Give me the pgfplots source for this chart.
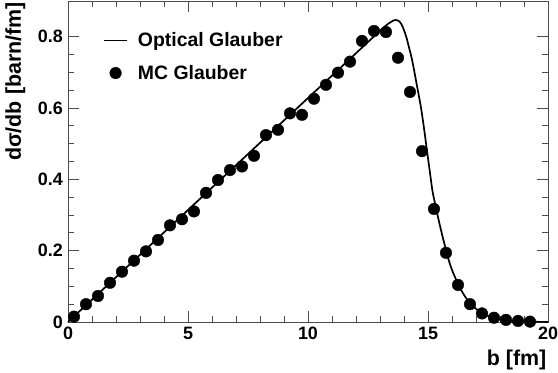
\documentclass[border=0pt]{standalone}
\usepackage{pgfplots}
\pgfplotsset{compat=1.18}
\usepackage{fontspec}
\setmainfont{Liberation Sans}
\pgfplotsset{
  lineleg/.style={legend image code/.code={\draw[##1] (0bp,0bp) -- (23bp,0bp); \path (0bp,0bp) (31bp,0bp);}},
  markleg/.style={legend image code/.code={\draw[##1] plot coordinates {(11.5bp,0bp)}; \path (0bp,0bp) (31bp,0bp);}},
}
\begin{document}
\begin{tikzpicture}
\path[use as bounding box] (-68bp,-51bp) rectangle (490bp,322bp);
\begin{axis}[
  at={(0,0)}, anchor=south west,
  scale only axis, width=480bp, height=321bp,
  xmin=0, xmax=20, ymin=0, ymax=0.9,
  clip=false,
  axis line style={black!70, line width=0.9bp},
  every tick/.style={black!70, line width=0.9bp},
  tick align=inside,
  xtick={0,5,10,15,20}, ytick={0,0.2,0.4,0.6,0.8},
  yticklabels={0,0.2,0.4,0.6,0.8},
  minor x tick num=4, minor y tick num=3,
  major tick length=11bp, minor tick length=6bp,
  /pgf/number format/assume math mode=true,
  tick label style={font=\fontsize{18}{20}\selectfont\bfseries},
  yticklabel style={inner sep=0pt, xshift=-5bp},
  xticklabel style={inner sep=0pt, yshift=-5bp},
  xlabel={b [fm]},
  ylabel={dσ/db [barn/fm]},
  label style={font=\fontsize{21.5}{24}\selectfont\bfseries},
  xlabel style={at={(axis description cs:0.997,-0.134)}, anchor=base east, inner sep=0pt},
  ylabel style={at={(axis description cs:-0.131,0.997)}, anchor=north east, inner sep=0pt},
  legend style={draw=none, fill=none, at={(axis description cs:0.073,0.908)}, anchor=north west,
    font=\fontsize{19.5}{22}\selectfont\bfseries, row sep=13bp, inner sep=0pt,
    column sep=0pt},
  legend cell align=left,
]
\addplot[black, line width=1.7bp, smooth, lineleg]
coordinates {
(0,0) (2,0.1256) (4,0.2512) (6,0.3768) (8,0.5024) (10,0.628) (12,0.7536) (13,0.8164)
(13.3,0.834) (13.5,0.843) (13.65,0.847) (13.8,0.843) (13.9,0.834) (14.0,0.818)
(14.11,0.796) (14.2,0.772) (14.32,0.740) (14.42,0.706) (14.53,0.666) (14.62,0.634)
(14.71,0.600) (14.83,0.545) (14.95,0.484) (15.07,0.425) (15.18,0.370) (15.3,0.330)
(15.42,0.293) (15.54,0.258) (15.65,0.228) (15.74,0.205) (15.87,0.172) (16.0,0.146)
(16.25,0.107) (16.5,0.076) (16.75,0.053) (17.0,0.037) (17.25,0.025) (17.5,0.017)
(17.75,0.011) (18.0,0.007) (18.5,0.003) (19.0,0.0013) (19.5,0.0005) (20,0.0002)
};
\addlegendentry{Optical Glauber}
\addplot[only marks, mark=*, mark size=5.8bp, black, markleg]
coordinates {
(0.25,0.015) (0.75,0.050) (1.25,0.073) (1.75,0.110) (2.25,0.141) (2.75,0.172)
(3.25,0.198) (3.75,0.230) (4.25,0.271) (4.75,0.288) (5.25,0.310) (5.75,0.362)
(6.25,0.398) (6.75,0.426) (7.25,0.436) (7.75,0.466) (8.25,0.524) (8.75,0.539)
(9.25,0.585) (9.75,0.581) (10.25,0.626) (10.75,0.665) (11.25,0.699) (11.75,0.730)
(12.25,0.788) (12.75,0.816) (13.25,0.813) (13.75,0.741) (14.25,0.645) (14.75,0.479)
(15.25,0.317) (15.75,0.194) (16.25,0.104) (16.75,0.050) (17.25,0.024) (17.75,0.012)
(18.25,0.006) (18.75,0.003) (19.25,0.001)
};
\addlegendentry{MC Glauber}
\end{axis}
\end{tikzpicture}
\end{document}
